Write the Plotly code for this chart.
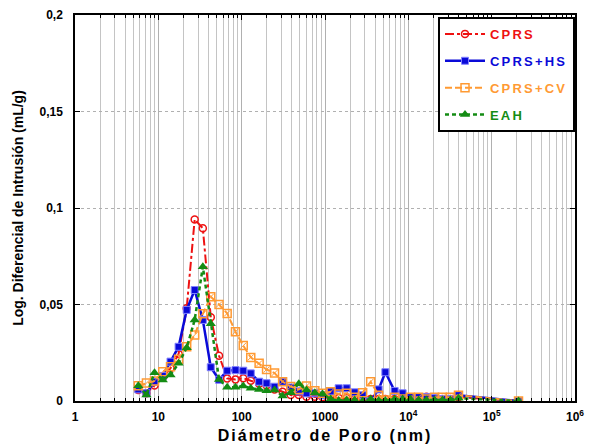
import plotly.graph_objects as go

# Pore diameter (nm) (shared sampling grid)
diam = [5.75, 7.2, 9.0, 11.3, 14.0, 17.5, 21.9, 27.3, 34.2, 42.6, 53.5, 67, 84.3, 104.5,
        128.6, 162, 199, 248, 310, 388, 485, 600, 755, 935, 1170, 1460, 1820, 2270,
        2830, 3530, 4400, 5300, 6850, 8540, 10600, 13300, 16500, 20600, 25700, 32000,
        40000, 210000]

cprs = [0.0057, 0.004, 0.008, 0.012, 0.017, 0.0244, 0.048, 0.0941, 0.0895, 0.0434,
        0.0235, 0.0117, 0.0112, 0.0118, 0.0105, 0.009, 0.008, 0.006, 0.0048, 0.0031,
        0.0031, 0.0022, 0.0022, 0.002, 0.0018, 0.0015, 0.0015, 0.0012, 0.0012, 0.001,
        0.001, 0.001, 0.001, 0.001, 0.0012, 0.0015, 0.0022, 0.0012, 0.001, 0.001,
        0.002, 0.0]

cprs_hs = [0.006, 0.004, 0.010, 0.013, 0.0204, 0.0281, 0.0472, 0.0575, 0.042, 0.0175,
           0.011, 0.0157, 0.016, 0.0157, 0.0143, 0.010, 0.0092, 0.0074, 0.010, 0.007,
           0.005, 0.004, 0.004, 0.003, 0.005, 0.0066, 0.0066, 0.0045, 0.003, 0.0,
           0.006, 0.0149, 0.0052, 0.004, 0.002, 0.002, 0.002, 0.0015, 0.001, 0.001,
           0.003, 0.0]

cprs_cv = [0.0079, 0.0093, 0.0104, 0.0152, 0.0178, 0.0216, 0.0281, 0.0342, 0.0452, 0.054,
           0.050, 0.0454, 0.0359, 0.0287, 0.0226, 0.0195, 0.0163, 0.0145, 0.010, 0.0075,
           0.006, 0.0078, 0.0053, 0.004, 0.0048, 0.0036, 0.004, 0.002, 0.0043, 0.010,
           0.003, 0.0005, 0.002, 0.001, 0.002, 0.002, 0.001, 0.002, 0.002, 0.002,
           0.003, 0.0]

eah = [0.0079, 0.0031, 0.0147, 0.0109, 0.0135, 0.0195, 0.0276, 0.042, 0.0696, 0.040,
       0.0112, 0.0071, 0.0071, 0.0078, 0.0066, 0.006, 0.0053, 0.0057, 0.0026, 0.0043,
       0.009, 0.0057, 0.0043, 0.0036, 0.001, 0.0002, 0.0005, 0.0005, 0.0, 0.001,
       0.0002, 0.0002, 0.001, 0.001, 0.001, 0.0005, 0.0005, 0.0005, 0.0005, 0.0005,
       0.0014, 0.0]

names = ["CPRS", "CPRS+HS", "CPRS+CV", "EAH"]
colors = ["#ee1111", "#0a0ad8", "#ff9a33", "#148c14"]

y_tickvals = [0, 0.05, 0.1, 0.15, 0.2]
y_ticktext = ["0", "0,05", "0,1", "0,15", "0,2"]
x_tickvals = [1, 10, 100, 1000, 1e4, 1e5, 1e6]
x_ticktext = ["1", "10", "100", "1000", "10<sup>4</sup>", "10<sup>5</sup>", "10<sup>6</sup>"]
x_minor = [m * 10 ** d for d in range(6) for m in range(2, 10)]

FONT = "Liberation Sans"

def lbl(i):
    return f"<span style='color:{colors[i]};letter-spacing:2.2px'><b>{names[i]}</b></span>"

fig = go.Figure()

fig.add_trace(go.Scatter(
    x=diam, y=cprs, mode="lines+markers", name=lbl(0), legendgroup="a",
    line=dict(color=colors[0], width=2, dash="dashdot"),
    marker=dict(symbol="circle-open", size=7, color=colors[0], line=dict(width=1.5, color=colors[0]))))

fig.add_trace(go.Scatter(
    x=diam, y=cprs_hs, mode="lines+markers", name=lbl(1), legendgroup="b",
    line=dict(color=colors[1], width=2.5),
    marker=dict(symbol="square", size=7, color=colors[1], line=dict(width=1, color="#8080ff"))))

fig.add_trace(go.Scatter(
    x=diam, y=cprs_cv, mode="lines+markers", name=lbl(2), legendgroup="c",
    line=dict(color=colors[2], width=2, dash="7px,3px"),
    marker=dict(symbol="square-open", size=8, color=colors[2], line=dict(width=1.5, color=colors[2]))))
fig.add_trace(go.Scatter(
    x=diam, y=cprs_cv, mode="markers", showlegend=False, legendgroup="c", hoverinfo="skip",
    marker=dict(symbol="line-ne-open", size=6, color=colors[2], line=dict(width=1, color=colors[2]))))

fig.add_trace(go.Scatter(
    x=diam, y=eah, mode="lines+markers", name=lbl(3), legendgroup="d",
    line=dict(color=colors[3], width=2.5, dash="4px,3px"),
    marker=dict(symbol="triangle-up", size=9, color=colors[3])))

fig.update_layout(
    width=591, height=448,
    margin=dict(l=75, r=16, t=15, b=47),
    paper_bgcolor="white", plot_bgcolor="white",
    font=dict(family=FONT, size=12, color="black"),
    showlegend=True,
    legend=dict(x=1.0, xanchor="right", y=0.995, yanchor="top",
                bordercolor="black", borderwidth=2, bgcolor="white",
                font=dict(family=FONT, size=13), itemwidth=40,
                traceorder="grouped", tracegroupgap=7),
    xaxis=dict(type="log", range=[0, 6], tickvals=x_tickvals, ticktext=x_ticktext,
               automargin=False, ticklabelstandoff=4,
               tickfont=dict(family=FONT, size=12, weight="bold"),
               showgrid=True, gridcolor="#b0b0b0", gridwidth=1,
               ticks="inside", ticklen=5, tickcolor="black",
               minor=dict(tickvals=x_minor, ticks="inside", ticklen=3, tickcolor="black",
                          showgrid=True, gridcolor="#c4c4c4", gridwidth=1),
               showline=True, linecolor="black", linewidth=1.5, mirror="ticks",
               zeroline=False,
               title=dict(text="<span style='letter-spacing:2px'>Diámetro de Poro (nm)</span>",
                          standoff=7,
                          font=dict(family=FONT, size=16, weight="bold"))),
    yaxis=dict(range=[0, 0.2], tickvals=y_tickvals, ticktext=y_ticktext,
               automargin=False,
               tickfont=dict(family=FONT, size=12, weight="bold"),
               showgrid=True, gridcolor="#b0b0b0", gridwidth=1, griddash="dot",
               ticks="inside", ticklen=5, tickcolor="black",
               showline=True, linecolor="black", linewidth=1.5, mirror="ticks",
               zeroline=False, ticklabelstandoff=8,
               title=dict(text="Log. Diferencial de Intrusión (mL/g)", standoff=13,
                          font=dict(family=FONT, size=14, weight="bold"))),
)

fig.write_html("out.html")
